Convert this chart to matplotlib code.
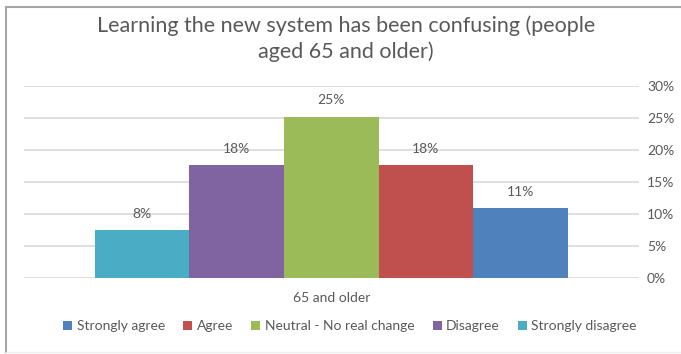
import matplotlib

matplotlib.use("Agg")
import matplotlib.pyplot as plt
import numpy as np
from matplotlib.lines import Line2D
from matplotlib.patches import Patch

plt.rcParams["font.family"] = ["Lato", "DejaVu Sans"]

# data (legend order)
responses = ["Strongly agree", "Agree", "Neutral - No real change", "Disagree", "Strongly disagree"]
shares = [10.9, 17.6, 25.2, 17.6, 7.5]
colors = ["#4F81BD", "#C0504D", "#9BBB59", "#8064A2", "#4BACC6"]
category = "65 and older"
yticks = [0, 5, 10, 15, 20, 25, 30]
title = "Learning the new system has been confusing (people\naged 65 and older)"

TEXT = "#595959"

fig = plt.figure(figsize=(6.81, 3.54), dpi=100)
ax = fig.add_axes([0.0352, 0.2147, 0.9028, 0.5423])

# bars are drawn in reverse order (Excel style)
order = list(range(len(responses)))[::-1]
x = np.arange(len(order))
for pos, i in zip(x, order):
    ax.bar(pos, shares[i], width=1.0, color=colors[i], zorder=3)
    ax.text(pos, shares[i] + 1.6, f"{round(shares[i])}%", ha="center", va="bottom",
            fontsize=10, color=TEXT, zorder=4)

ax.set_xlim(-1.25, len(order) - 1 + 1.25)
ax.set_ylim(0, 30)
ax.set_yticks(yticks)
ax.set_yticklabels([f"{t}%" for t in yticks])
ax.yaxis.tick_right()
ax.tick_params(axis="y", length=0, pad=6, labelsize=10, labelcolor=TEXT)
ax.set_xticks([(len(order) - 1) / 2])
ax.set_xticklabels([category])
ax.tick_params(axis="x", length=0, pad=10, labelsize=10, labelcolor=TEXT)
ax.grid(axis="y", color="#D9D9D9", linewidth=1.2, zorder=0)
for s in ax.spines.values():
    s.set_visible(False)

fig.text(0.508, 0.891, title, ha="center", va="center", fontsize=15.5,
         color=TEXT, linespacing=1.3)

handles = [Patch(facecolor=c, edgecolor="none") for c in colors]
fig.legend(handles, responses, loc="center", bbox_to_anchor=(0.514, 0.078), ncol=5,
           frameon=False, fontsize=10, labelcolor=TEXT, handlelength=0.65,
           handleheight=0.65, handletextpad=0.3, columnspacing=1.33)

# chart frame (left and top visible, right cut off)
fig.add_artist(Line2D([0.0081, 0.0081], [0.006, 0.981], transform=fig.transFigure,
                      color="#A6A6A6", linewidth=1.5))
fig.add_artist(Line2D([0.0081, 1.0], [0.981, 0.981], transform=fig.transFigure,
                      color="#A6A6A6", linewidth=1.5))
fig.add_artist(Line2D([0.0081, 1.0], [0.006, 0.006], transform=fig.transFigure,
                      color="#EEEEEE", linewidth=1.0))

fig.savefig("out.png", dpi=100, facecolor="white")
